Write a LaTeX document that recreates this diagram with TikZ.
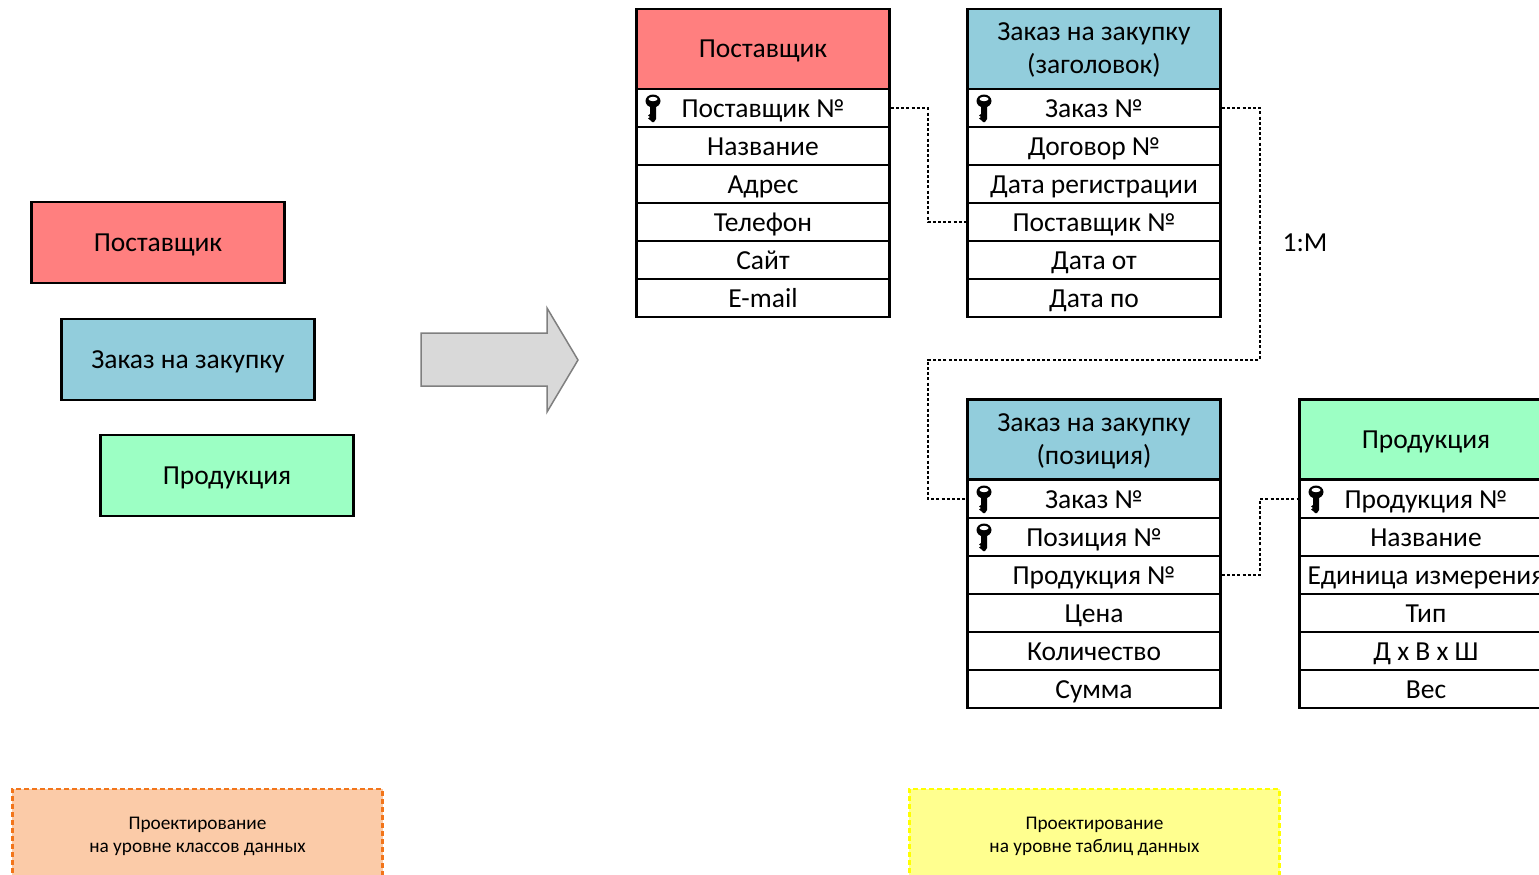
\documentclass[tikz,border=0pt]{standalone}
\usepackage{fontspec}
\setmainfont{Carlito}
\definecolor{cRed}{HTML}{FF7F7F}
\definecolor{cBlue}{HTML}{92CDDC}
\definecolor{cGreen}{HTML}{9CFFC4}
\definecolor{cOrangeF}{HTML}{FBCBA8}
\definecolor{cOrangeL}{HTML}{F2751A}
\definecolor{cYellowF}{HTML}{FFFF8F}
\definecolor{cYellowL}{HTML}{FFFF00}
\definecolor{cArrowF}{HTML}{D9D9D9}
\definecolor{cArrowL}{HTML}{7F7F7F}
\tikzset{
  boxbase/.style={draw=black,line width=2.7pt,minimum width=253pt,inner sep=0pt,align=center,font=\fontsize{27.5}{33}\selectfont},
  classbox/.style={boxbase,minimum height=81pt,text height=20pt,text depth=3pt},
  headbox/.style={boxbase,minimum height=80pt,text height=20pt,text depth=3pt},
  headtwo/.style={boxbase,minimum height=80pt,text height=53pt,text depth=3pt},
  rowbox/.style={boxbase,fill=white,minimum height=38pt,text height=21pt,text depth=2pt},
  notebox/.style={line width=2.7pt,dash pattern=on 5pt off 3pt,minimum width=370.5pt,minimum height=100pt,inner sep=0pt},
  notetext/.style={align=center,font=\fontsize{19.3}{23}\selectfont,inner sep=0pt},
  rel/.style={line width=2pt,dash pattern=on 3pt off 2.2pt},
  keyicon/.pic={
    \fill[black] (-3,-2) -- (3,-2) -- (3,12) -- (1,15) -- (-1,15) -- (-3,13) -- (-5,11.5) -- (-3,10) -- (-5,8.5) -- (-3,7) -- cycle;
    \fill[black] (0,-6) ellipse (7.5 and 6.5);
    \fill[white] (0,-8) ellipse (4.5 and 2.2);
  }
}
\newcommand{\trow}[4]{\node[rowbox] (#1) at (#2,#3) {#4};}
\begin{document}
\begin{tikzpicture}[x=1pt,y=-1pt]
\useasboundingbox (0,0) rectangle (1539,875);
\clip (0,0) rectangle (1539,875);
% class boxes
\node[classbox,fill=cRed] (c1) at (158,242.5) {Поставщик};
\node[classbox,fill=cBlue] (c2) at (188,359.5) {Заказ на закупку};
\node[classbox,fill=cGreen] (c3) at (227,475.5) {Продукция};
% big arrow
\node[inner sep=0pt,minimum size=0pt] (arrowtip) at (578,360) {};
\draw[draw=cArrowL,fill=cArrowF,line width=1.5pt,line join=miter] (421,333) -- (547,333) -- (547,308) -- (arrowtip.center) -- (547,412) -- (547,386) -- (421,386) -- cycle;
% table 1
\node[headbox,fill=cRed] (t1h) at (763,49) {Поставщик};
\trow{t1a}{763}{108}{Поставщик №}
\trow{t1b}{763}{146}{Название}
\trow{t1c}{763}{184}{Адрес}
\trow{t1d}{763}{222}{Телефон}
\trow{t1e}{763}{260}{Сайт}
\trow{t1f}{763}{298}{E-mail}
% table 2
\node[headtwo,fill=cBlue] (t2h) at (1094,49) {Заказ на закупку\\(заголовок)};
\trow{t2a}{1094}{108}{Заказ №}
\trow{t2b}{1094}{146}{Договор №}
\trow{t2c}{1094}{184}{Дата регистрации}
\trow{t2d}{1094}{222}{Поставщик №}
\trow{t2e}{1094}{260}{Дата от}
\trow{t2f}{1094}{298}{Дата по}
% table 3
\node[headtwo,fill=cBlue] (t3h) at (1094,439.5) {Заказ на закупку\\(позиция)};
\trow{t3a}{1094}{499}{Заказ №}
\trow{t3b}{1094}{537}{Позиция №}
\trow{t3c}{1094}{575}{Продукция №}
\trow{t3d}{1094}{613}{Цена}
\trow{t3e}{1094}{651}{Количество}
\trow{t3f}{1094}{689}{Сумма}
% table 4
\node[headbox,fill=cGreen] (t4h) at (1426,439.5) {Продукция};
\trow{t4a}{1426}{499}{Продукция №}
\trow{t4b}{1426}{537}{Название}
\trow{t4c}{1426}{575}{Единица измерения}
\trow{t4d}{1426}{613}{Тип}
\trow{t4e}{1426}{651}{Д х В х Ш}
\trow{t4f}{1426}{689}{Вес}
% keys
\pic at (653,107) {keyicon};
\pic at (984,107) {keyicon};
\pic at (984,498) {keyicon};
\pic at (984,536) {keyicon};
\pic at (1316,498) {keyicon};
% connectors
\coordinate (j1) at (928,359.5);
\coordinate (j2) at (1260,359.5);
\draw[rel] (t1a.east) -- ++(37,0) |- (t2d.west);
\draw[rel] (t2a.east) -| (j2) -- (j1) |- (t3a.west);
\draw[rel] (t3c.east) -- ++(38,0) |- (t4a.west);
\node[font=\fontsize{27.5}{30}\selectfont,inner sep=0pt] (ratio) at (1305,243) {1:М};
% notes
\node[notebox,draw=cOrangeL,fill=cOrangeF] (n1) at (197.5,839) {};
\node[notebox,draw=cYellowL,fill=cYellowF] (n2) at (1094.5,839) {};
\node[notetext] (n1t) at (197.5,836.5) {Проектирование\\на уровне классов данных};
\node[notetext] (n2t) at (1094.5,836.5) {Проектирование\\на уровне таблиц данных};
\end{tikzpicture}
\end{document}
